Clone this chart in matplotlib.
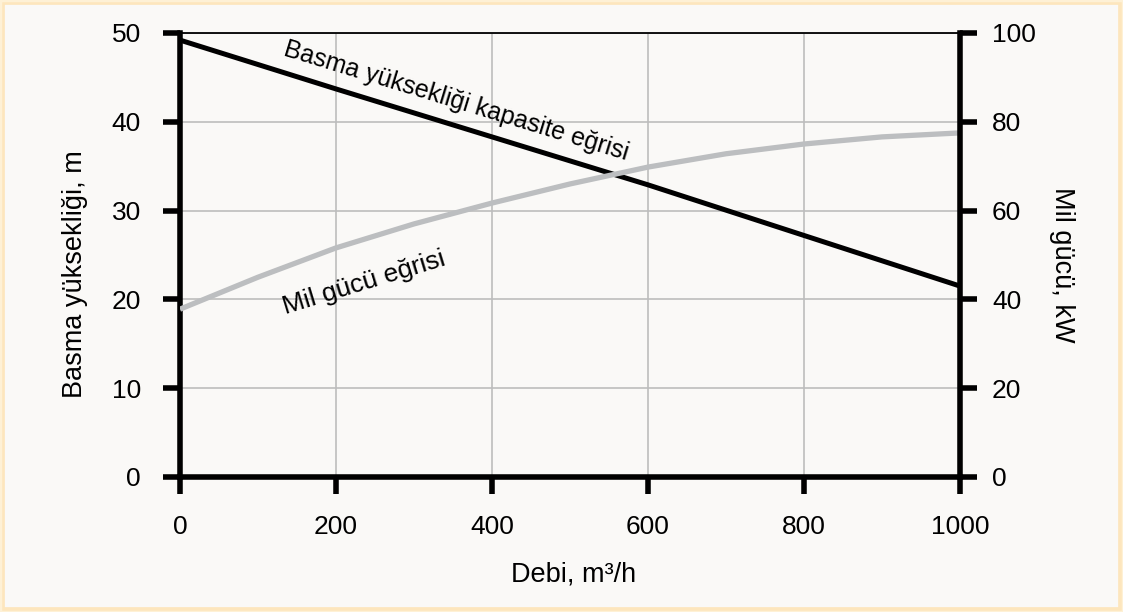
import matplotlib.pyplot as plt
from matplotlib.patches import Rectangle

plt.rcParams['font.family'] = ['Liberation Sans', 'DejaVu Sans']

# Debi (m³/h)
debi = [0, 200, 400, 600, 800, 1000]
# Basma yüksekliği (m)
basma = [49.2, 43.7, 38.3, 32.9, 27.2, 21.5]
# Mil gücü (kW)
debi_guc = [0, 100, 200, 300, 400, 500, 600, 700, 800, 900, 1000]
mil_gucu = [37.8, 45.0, 51.6, 57.0, 61.7, 66.0, 69.8, 72.8, 75.0, 76.6, 77.5]

bg = '#FAF9F7'
fig = plt.figure(figsize=(11.23, 6.12), dpi=100, facecolor=bg)
ax = fig.add_axes([180 / 1123, 1 - 477 / 612, 780 / 1123, 444 / 612])
ax.set_facecolor(bg)

ax.plot(debi, basma, color='black', lw=3.6, solid_capstyle='butt', zorder=3)
ax.set_xlim(0, 1000)
ax.set_ylim(0, 50)
ax.set_xticks(debi)
ax.set_yticks([0, 10, 20, 30, 40, 50])
ax.grid(True, color='#BDBDBD', lw=1.2)
ax.set_axisbelow(True)

for s in ['left', 'bottom']:
    ax.spines[s].set_linewidth(4)
ax.spines['top'].set_linewidth(1.3)
ax.spines['right'].set_visible(False)
ax.tick_params(axis='y', length=12, width=4, pad=16, labelsize=19)
ax.tick_params(axis='x', length=12, width=4, pad=15, labelsize=19)

ax2 = ax.twinx()
ax2.plot(debi_guc, mil_gucu, color='#BCBEC0', lw=3.8, solid_capstyle='butt')
ax2.set_ylim(0, 100)
ax2.set_yticks([0, 20, 40, 60, 80, 100])
ax2.spines['right'].set_linewidth(4)
for s in ['left', 'top', 'bottom']:
    ax2.spines[s].set_visible(False)
ax2.tick_params(axis='y', length=12, width=4, pad=11, labelsize=19)

ax.set_xlabel('Debi, m³/h', fontsize=19.5)
ax.xaxis.set_label_coords(0.505, -0.22)
ax.xaxis.label.set_va('center')
ax.set_ylabel('Basma yüksekliği, m', fontsize=19.5)
ax.yaxis.set_label_coords(-0.135, 0.457)
ax.yaxis.label.set_va('center')
ax2.set_ylabel('Mil gücü, kW', fontsize=19.5, rotation=270)
ax2.yaxis.set_label_coords(1.131, 0.477)
ax2.yaxis.label.set_va('center')

ax.text(132, 47.5, 'Basma yüksekliği kapasite eğrisi', fontsize=18,
        rotation=-17, rotation_mode='anchor', ha='left', va='baseline')
ax.text(135, 18.3, 'Mil gücü eğrisi', fontsize=19,
        rotation=17, rotation_mode='anchor', ha='left', va='baseline')

fig.patches.append(Rectangle((0, 0), 1, 1, transform=fig.transFigure,
                             fill=False, edgecolor='#FDE6BD', lw=7))
fig.patches.append(Rectangle((0, 0), 1, 1, transform=fig.transFigure,
                             fill=False, edgecolor='#FEF1D6', lw=2.5))

fig.savefig('out.png', dpi=100, facecolor=bg)
